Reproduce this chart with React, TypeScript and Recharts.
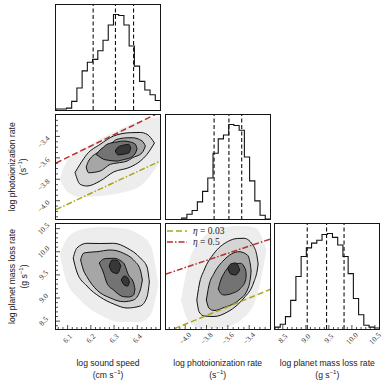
import React from "react";
import { ComposedChart, Line, Area, XAxis, YAxis, ReferenceLine, Legend } from "recharts";

// parameter ranges (shared by the histogram and the 2d panels)
const soundRange: [number, number] = [6.05, 6.5];
const photoRange: [number, number] = [-4.18, -3.2];
const massRange: [number, number] = [8.33, 10.6];

const soundMajor = [6.1, 6.2, 6.3, 6.4];
const soundMinor = [6.06, 6.08, 6.12, 6.14, 6.16, 6.18, 6.22, 6.24, 6.26, 6.28, 6.32, 6.34, 6.36, 6.38, 6.42, 6.44, 6.46, 6.48];
const photoMajor = [-4.0, -3.8, -3.6, -3.4];
const photoMinor = [-4.15, -4.1, -4.05, -3.95, -3.9, -3.85, -3.75, -3.7, -3.65, -3.55, -3.5, -3.45, -3.35, -3.3, -3.25];
const massMajor = [8.5, 9.0, 9.5, 10.0, 10.5];
const massMinor = [8.4, 8.6, 8.7, 8.8, 8.9, 9.1, 9.2, 9.3, 9.4, 9.6, 9.7, 9.8, 9.9, 10.1, 10.2, 10.3, 10.4];

// 1d histograms (20 bins over the range)
const soundCounts = [1, 1, 2, 9, 23, 41, 50, 53, 62, 73, 89, 100, 99, 89, 67, 46, 30, 21, 16, 10];
const photoCounts = [0, 0, 0, 2, 6, 10, 19, 30, 44, 70, 85, 89, 100, 99, 94, 66, 41, 20, 5, 1];
const massCounts = [2, 5, 13, 30, 55, 76, 85, 90, 93, 99, 100, 96, 88, 76, 58, 32, 15, 4, 2, 1];

// 16 / 50 / 84 percentiles
const soundQuant = [6.21, 6.306, 6.384];
const photoQuant = [-3.729, -3.59, -3.47];
const massQuant = [9.03, 9.45, 9.83];

// 2d panels: [x, low, high] of the point cloud and of each contour level
const spCloud = [
  [6.067, -3.798, -3.798], [6.096, -3.91, -3.63], [6.154, -3.966, -3.536], [6.24, -3.956, -3.424],
  [6.327, -3.928, -3.331], [6.413, -3.863, -3.256], [6.5, -3.63, -3.219],
];
const spLevel1 = [
  [6.132, -3.737, -3.737], [6.154, -3.847, -3.658], [6.183, -3.863, -3.567], [6.24, -3.816, -3.474],
  [6.298, -3.732, -3.396], [6.37, -3.686, -3.365], [6.413, -3.63, -3.363], [6.442, -3.567, -3.38], [6.474, -3.461, -3.461],
];
const spLevel2 = [
  [6.18, -3.686, -3.686], [6.19, -3.739, -3.63], [6.24, -3.723, -3.536], [6.284, -3.66, -3.471],
  [6.313, -3.648, -3.427], [6.356, -3.63, -3.413], [6.378, -3.601, -3.412], [6.421, -3.552, -3.443], [6.435, -3.489, -3.489],
];
const spLevel3 = [
  [6.223, -3.569, -3.569], [6.233, -3.583, -3.541], [6.255, -3.614, -3.499], [6.269, -3.62, -3.474],
  [6.313, -3.63, -3.452], [6.341, -3.616, -3.443], [6.37, -3.599, -3.452], [6.392, -3.555, -3.474], [6.399, -3.517, -3.517],
];
const spLevel4 = [[6.305, -3.536, -3.536], [6.318, -3.573, -3.499], [6.344, -3.564, -3.48], [6.363, -3.555, -3.474], [6.372, -3.508, -3.508]];

const smCloud = [
  [6.067, 9.93, 9.93], [6.093, 9.389, 10.254], [6.154, 8.957, 10.47], [6.24, 8.633, 10.535],
  [6.327, 8.482, 10.514], [6.413, 8.482, 10.362], [6.457, 8.633, 10.146], [6.491, 9.281, 9.281],
];
const smLevel1 = [
  [6.124, 9.865, 9.865], [6.14, 9.562, 10.081], [6.183, 9.26, 10.183], [6.24, 9.022, 10.178], [6.298, 8.871, 10.183],
  [6.356, 8.784, 10.081], [6.413, 8.827, 9.865], [6.442, 9.022, 9.67], [6.452, 9.346, 9.346],
];
const smLevel2 = [
  [6.156, 9.822, 9.822], [6.168, 9.606, 9.967], [6.183, 9.461, 9.984], [6.226, 9.173, 10.001], [6.284, 9.0, 10.038],
  [6.341, 8.92, 9.967], [6.384, 8.957, 9.822], [6.413, 9.173, 9.606], [6.422, 9.389, 9.389],
];
const smLevel3 = [
  [6.236, 9.757, 9.757], [6.255, 9.541, 9.843], [6.269, 9.325, 9.854], [6.298, 9.173, 9.859],
  [6.341, 9.028, 9.757], [6.362, 9.022, 9.498], [6.384, 9.065, 9.325], [6.39, 9.195, 9.195],
];
const smLevel4a = [[6.279, 9.692, 9.692], [6.292, 9.562, 9.822], [6.314, 9.53, 9.811], [6.329, 9.692, 9.692]];
const smLevel4b = [[6.331, 9.389, 9.389], [6.344, 9.281, 9.476], [6.359, 9.26, 9.433], [6.366, 9.346, 9.346]];

const pmCloud = [
  [-4.04, 8.957, 8.957], [-3.965, 8.482, 9.779], [-3.853, 8.352, 10.254], [-3.666, 8.352, 10.514],
  [-3.48, 8.525, 10.557], [-3.34, 8.957, 10.514], [-3.237, 10.038, 10.038],
];
const pmLevel1 = [
  [-3.891, 8.957, 8.957], [-3.869, 8.698, 9.281], [-3.822, 8.611, 9.606], [-3.729, 8.6, 9.967], [-3.604, 8.698, 10.217],
  [-3.511, 8.849, 10.287], [-3.449, 9.0, 10.291], [-3.356, 9.346, 10.109], [-3.324, 9.606, 9.865], [-3.316, 9.735, 9.735],
];
const pmLevel2 = [
  [-3.802, 8.957, 8.957], [-3.776, 8.778, 9.281], [-3.729, 8.73, 9.534], [-3.636, 8.795, 9.822],
  [-3.496, 8.957, 10.001], [-3.417, 9.173, 9.93], [-3.386, 9.476, 9.677], [-3.382, 9.584, 9.584],
];
const pmLevel3 = [
  [-3.69, 9.195, 9.195], [-3.666, 9.098, 9.389], [-3.636, 9.065, 9.534], [-3.557, 9.102, 9.714],
  [-3.48, 9.21, 9.75], [-3.433, 9.389, 9.606], [-3.428, 9.498, 9.498],
];
const pmLevel4 = [[-3.601, 9.649, 9.649], [-3.573, 9.519, 9.735], [-3.526, 9.498, 9.757], [-3.489, 9.606, 9.606]];

// eta reference lines
const spEtaHigh = [[6.05, -3.648], [6.5, -3.172]];
const spEtaLow = [[6.05, -4.083], [6.5, -3.628]];
const pmEtaHigh = [[-4.18, 9.519], [-3.2, 10.276]];
const pmEtaLow = [[-4.18, 8.263], [-3.2, 9.188]];

const RED = "#b8302c";
const OLIVE = "#a9a61e";
const cloudFill = "#ededed";
const levelFills = ["#d5d5d5", "#a6a6a6", "#737373", "#383838"];

const W = 104.5;
const H = 105;
const colX = [56, 165.5, 275];
const rowY = [5, 114.5, 224];
const PAD_L = 50;
const PAD_B = 26;
const PAD_T = 10;
const PAD_R = 12;

const toBand = (rows: number[][]) => rows.map(([x, lo, hi]) => ({ x, band: [lo, hi] }));
const toXY = (rows: number[][]) => rows.map(([x, y]) => ({ x, y }));
const toSteps = (range: [number, number], counts: number[]) => {
  const w = (range[1] - range[0]) / counts.length;
  const pts = [{ x: range[0], y: 0 }];
  counts.forEach((c, i) => {
    pts.push({ x: range[0] + i * w, y: c });
    pts.push({ x: range[0] + (i + 1) * w, y: c });
  });
  pts.push({ x: range[1], y: 0 });
  return pts;
};

const near = (list: number[], v: number) => list.some((m) => Math.abs(m - v) < 1e-6);
const fmt = (v: number) => v.toFixed(1).replace("-", "\u2212");
const merge = (a: number[], b: number[]) => [...a, ...b].sort((p, q) => p - q);

const tickFont = { fontSize: 7.5, fontFamily: "'Liberation Serif', serif", fill: "#333" };

function makeXTick(major: number[], labels: boolean) {
  return (p: any) => {
    const { x, y, payload } = p;
    const isMajor = near(major, payload.value);
    const ly = y + 9.5;
    return (
      <g>
        <line x1={x} x2={x} y1={y} y2={y - (isMajor ? 4 : 2)} stroke="#222" strokeWidth={0.8} />
        {labels && isMajor && (
          <text x={x} y={ly} transform={`rotate(-45 ${x} ${ly})`} textAnchor="middle" dominantBaseline="central" {...tickFont}>
            {fmt(payload.value)}
          </text>
        )}
      </g>
    );
  };
}

function makeYTick(major: number[], labels: boolean, dy: number) {
  return (p: any) => {
    const { x, y, payload } = p;
    const isMajor = near(major, payload.value);
    const lx = x - 12.5;
    const ly = y + dy;
    return (
      <g>
        <line x1={x} x2={x + (isMajor ? 4 : 2)} y1={y} y2={y} stroke="#222" strokeWidth={0.8} />
        {labels && isMajor && (
          <text x={lx} y={ly} transform={`rotate(-45 ${lx} ${ly})`} textAnchor="middle" dominantBaseline="central" {...tickFont}>
            {fmt(payload.value)}
          </text>
        )}
      </g>
    );
  };
}

type PanelProps = {
  col: number;
  row: number;
  xDomain: [number, number];
  yDomain: [number, number];
  xMajor: number[];
  xMinor: number[];
  yMajor?: number[];
  yMinor?: number[];
  xLabels: boolean;
  yLabels: boolean;
  yLabelDy?: number;
  children: React.ReactNode;
};

function Panel({ col, row, xDomain, yDomain, xMajor, xMinor, yMajor, yMinor, xLabels, yLabels, yLabelDy = 0, children }: PanelProps) {
  const padL = yLabels ? PAD_L : 0;
  const padB = xLabels ? PAD_B : 0;
  const padT = yLabels ? PAD_T : 0;
  const padR = xLabels ? PAD_R : 0;
  return (
    <div style={{ position: "absolute", left: colX[col] - padL, top: rowY[row] - padT }}>
      <ComposedChart width={W + padL + padR} height={H + padB + padT} margin={{ top: padT, right: padR, bottom: 0, left: 0 }}>
        <XAxis
          type="number"
          dataKey="x"
          domain={xDomain}
          allowDataOverflow
          ticks={merge(xMajor, xMinor)}
          interval={0}
          height={padB}
          tickSize={0}
          tickMargin={0}
          axisLine={false}
          tickLine={false}
          tick={makeXTick(xMajor, xLabels)}
        />
        {yMajor ? (
          <YAxis
            type="number"
            domain={yDomain}
            allowDataOverflow
            ticks={merge(yMajor, yMinor || [])}
            interval={0}
            width={padL}
            tickSize={0}
            tickMargin={0}
            axisLine={false}
            tickLine={false}
            tick={makeYTick(yMajor, yLabels, yLabelDy)}
          />
        ) : (
          <YAxis type="number" domain={yDomain} allowDataOverflow hide />
        )}
        {children}
      </ComposedChart>
      <div
        style={{
          position: "absolute",
          left: padL - 0.6,
          top: padT - 0.6,
          width: W + 1.2,
          height: H + 1.2,
          border: "1.2px solid #151515",
          boxSizing: "border-box",
          pointerEvents: "none",
        }}
      />
    </div>
  );
}

function density(prefix: string, cloud: number[][], levels: number[][][], levelIdx: number[]) {
  const items = [
    <Area key={prefix + "c"} data={toBand(cloud)} dataKey="band" type="monotone" stroke="none" fill={cloudFill}
      fillOpacity={1} isAnimationActive={false} legendType="none" activeDot={false} />,
  ];
  levels.forEach((lv, i) => {
    items.push(
      <Area key={prefix + i} data={toBand(lv)} dataKey="band" type="monotone" stroke="#111" strokeWidth={1}
        fill={levelFills[levelIdx[i]]} fillOpacity={1} isAnimationActive={false} legendType="none" activeDot={false} />
    );
  });
  return items;
}

function histogram(range: [number, number], counts: number[], quant: number[]) {
  return [
    <Line key="h" data={toSteps(range, counts)} dataKey="y" type="linear" stroke="#111" strokeWidth={1.1}
      dot={false} activeDot={false} isAnimationActive={false} legendType="none" />,
    ...quant.map((q, i) => (
      <ReferenceLine key={"q" + i} x={q} stroke="#111" strokeWidth={1.1} strokeDasharray="4 2.5" />
    )),
  ];
}

const legendDash: Record<string, string> = { "η = 0.03": "6 3", "η = 0.5": "6 2 1.5 2" };

function EtaLegend(props: any) {
  const items = (props.payload || []).filter((e: any) => legendDash[e.value] !== undefined);
  return (
    <div style={{ fontFamily: "'Liberation Serif', serif", fontSize: 9.5, color: "#222" }}>
      {items.map((e: any) => (
        <div key={e.value} style={{ display: "flex", alignItems: "center", height: 11 }}>
          <svg width={20} height={6}>
            <line x1={0} y1={3} x2={20} y2={3} stroke={e.color} strokeWidth={1.6} strokeDasharray={legendDash[e.value]} />
          </svg>
          <span style={{ marginLeft: 6 }}>
            <i>η</i>
            {String(e.value).slice(1)}
          </span>
        </div>
      ))}
    </div>
  );
}

const titleFont = { fontSize: 8.6, fontFamily: "'Liberation Sans', sans-serif", fill: "#222" };

function Title({ x, y, text, unit, vertical }: { x: number; y: number; text: string; unit: string; vertical?: boolean }) {
  const d = 11.8;
  const t = vertical ? `rotate(-90 ${x} ${y})` : undefined;
  const t2 = vertical ? `rotate(-90 ${x + d} ${y})` : undefined;
  return (
    <g>
      <text x={x} y={y} transform={t} textAnchor="middle" dominantBaseline="central" {...titleFont}>
        {text}
      </text>
      <text x={vertical ? x + d : x} y={vertical ? y : y + d} transform={t2} textAnchor="middle" dominantBaseline="central" {...titleFont}>
        {"(" + (unit ? unit + " " : "") + "s"}
        <tspan dy={-3} fontSize={6}>−1</tspan>
        <tspan dy={3}>)</tspan>
      </text>
    </g>
  );
}

export default function App() {
  return (
    <div style={{ position: "absolute", left: 0, top: 0, width: 390, height: 385, background: "#fff", overflow: "hidden" }}>
      {/* diagonal: histograms */}
      <Panel col={0} row={0} xDomain={soundRange} yDomain={[0, 110]} xMajor={soundMajor} xMinor={soundMinor} xLabels={false} yLabels={false}>
        {histogram(soundRange, soundCounts, soundQuant)}
      </Panel>
      <Panel col={1} row={1} xDomain={photoRange} yDomain={[0, 110]} xMajor={photoMajor} xMinor={photoMinor} xLabels={false} yLabels={false}>
        {histogram(photoRange, photoCounts, photoQuant)}
      </Panel>
      <Panel col={2} row={2} xDomain={massRange} yDomain={[0, 110]} xMajor={massMajor} xMinor={massMinor} xLabels yLabels={false}>
        {histogram(massRange, massCounts, massQuant)}
      </Panel>

      {/* sound speed vs photoionization */}
      <Panel col={0} row={1} xDomain={soundRange} yDomain={photoRange} xMajor={soundMajor} xMinor={soundMinor}
        yMajor={photoMajor} yMinor={photoMinor} xLabels={false} yLabels yLabelDy={5.5}>
        {density("sp", spCloud, [spLevel1, spLevel2, spLevel3, spLevel4], [0, 1, 2, 3])}
        <Line data={toXY(spEtaHigh)} dataKey="y" stroke={RED} strokeWidth={1.5} strokeDasharray="6 3"
          dot={false} activeDot={false} isAnimationActive={false} legendType="none" />
        <Line data={toXY(spEtaLow)} dataKey="y" stroke={OLIVE} strokeWidth={1.5} strokeDasharray="6 2 1.5 2"
          dot={false} activeDot={false} isAnimationActive={false} legendType="none" />
      </Panel>

      {/* sound speed vs mass loss */}
      <Panel col={0} row={2} xDomain={soundRange} yDomain={massRange} xMajor={soundMajor} xMinor={soundMinor}
        yMajor={massMajor} yMinor={massMinor} xLabels yLabels>
        {density("sm", smCloud, [smLevel1, smLevel2, smLevel3, smLevel4a, smLevel4b], [0, 1, 2, 3, 3])}
      </Panel>

      {/* photoionization vs mass loss */}
      <Panel col={1} row={2} xDomain={photoRange} yDomain={massRange} xMajor={photoMajor} xMinor={photoMinor}
        yMajor={massMajor} yMinor={massMinor} xLabels yLabels={false}>
        {density("pm", pmCloud, [pmLevel1, pmLevel2, pmLevel3, pmLevel4], [0, 1, 2, 3])}
        <Line data={toXY(pmEtaLow)} dataKey="y" name="η = 0.03" stroke={OLIVE} strokeWidth={1.5} strokeDasharray="6 3"
          dot={false} activeDot={false} isAnimationActive={false} />
        <Line data={toXY(pmEtaHigh)} dataKey="y" name="η = 0.5" stroke={RED} strokeWidth={1.5} strokeDasharray="6 2 1.5 2"
          dot={false} activeDot={false} isAnimationActive={false} />
        <Legend layout="vertical" align="center" verticalAlign="middle" content={EtaLegend}
          wrapperStyle={{ left: 1.5, top: 1, width: 70 }} />
      </Panel>

      <svg width={390} height={385} style={{ position: "absolute", left: 0, top: 0, pointerEvents: "none" }}>
        <Title x={11.7} y={166.7} text="log photoionization rate" unit="" vertical />
        <Title x={11.7} y={276.5} text="log planet mass loss rate" unit="g" vertical />
        <Title x={108} y={363} text="log sound speed" unit="cm" />
        <Title x={217.7} y={363} text="log photoionization rate" unit="" />
        <Title x={327.3} y={363} text="log planet mass loss rate" unit="g" />
      </svg>
    </div>
  );
}
